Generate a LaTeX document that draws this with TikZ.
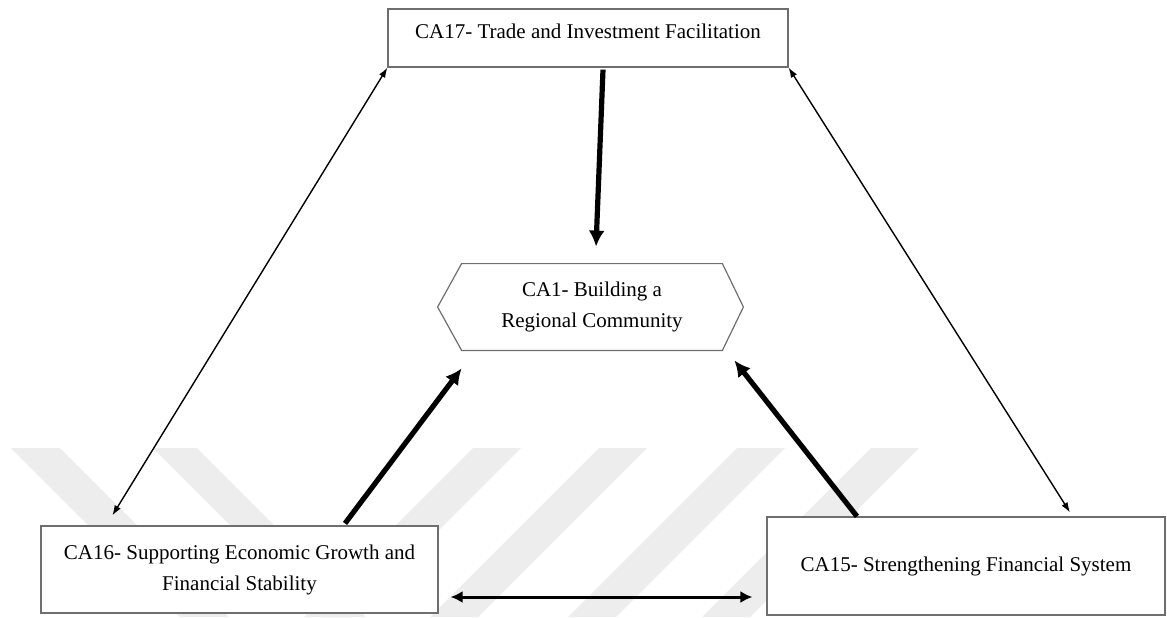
\documentclass[tikz,border=0pt]{standalone}
\usepackage{fontspec}
\setmainfont{Liberation Serif}
\usetikzlibrary{arrows.meta}
\usetikzlibrary{calc}
\definecolor{boxgray}{RGB}{110,110,110}
\definecolor{markgray}{RGB}{237,237,237}
\tikzset{
  areabox/.style={draw=boxgray, line width=0.6pt, fill=white, align=center,
    font=\fontsize{10.5}{15.5}\selectfont},
  thinlink/.style={{Latex[length=5pt,width=3.5pt]}-{Latex[length=5pt,width=3.5pt]}, line width=0.7pt},
  midlink/.style={{Latex[length=6pt,width=6pt]}-{Latex[length=6pt,width=6pt]}, line width=1.5pt},
  thicklink/.style={-{Latex[length=8pt,width=8pt]}, line width=2.6pt},
}

\begin{document}
\begin{tikzpicture}[x=0.5pt, y=-0.5pt]
  \useasboundingbox (0,0) rectangle (1167,617);

  % stripes in the background
  \foreach \a/\b in {11/60, 153/197}
    \fill[markgray] (\a,448) -- (\b,448) -- (\b+169,617) -- (\a+169,617) -- cycle;
  \foreach \a/\b in {473/521, 599/647, 737/785, 871/919}
    \fill[markgray] (\a,448) -- (\b,448) -- (\b-169,617) -- (\a-169,617) -- cycle;

  \node[areabox, minimum width=200pt, minimum height=29pt, text height=7pt, text depth=7pt] (ca17) at (588,38) {CA17- Trade and Investment Facilitation};

  % hexagon round the text
  \node[align=center, font=\fontsize{10.5}{15.5}\selectfont, minimum width=130pt, minimum height=43pt] (ca1) at (592,307) {CA1- Building a\\Regional Community};
  \draw[boxgray, line width=0.6pt] (ca1.north west) -- (ca1.north east) -- ([xshift=10.5pt]ca1.east) -- (ca1.south east) -- (ca1.south west) -- ([xshift=-12pt]ca1.west) -- cycle;

  \node[areabox, minimum width=198.5pt, minimum height=43.5pt] (ca16) at (239.5,569.5) {CA16- Supporting Economic Growth and\\Financial Stability};
  \node[areabox, minimum width=199pt, minimum height=49pt] (ca15) at (966,566) {CA15- Strengthening Financial System};

  \coordinate (ca16top) at ([xshift=36pt,yshift=5pt]ca16.north west);
  \coordinate (ca15top) at ([xshift=52pt,yshift=2pt]ca15.north);
  \coordinate (ca16right) at ([xshift=6pt,yshift=-13.75pt]ca16.east);

  % into CA1
  \draw[thicklink] ([xshift=7.5pt,yshift=-1pt]ca17.south) -- ([xshift=2pt,yshift=8.5pt]ca1.north);
  \draw[thicklink] ([xshift=52.75pt,yshift=1pt]ca16.north) -- ([yshift=-9pt]ca1.south west);
  \draw[thicklink] ([xshift=-54.5pt]ca15.north) -- ([xshift=6pt,yshift=-5pt]ca1.south east);

  % both ways
  \draw[thinlink] (ca17.south west) -- (ca16top);
  \draw[thinlink] (ca17.south east) -- (ca15top);
  \draw[midlink, shorten >=7pt] (ca16right) -- (ca16right -| ca15.west);
\end{tikzpicture}
\end{document}
